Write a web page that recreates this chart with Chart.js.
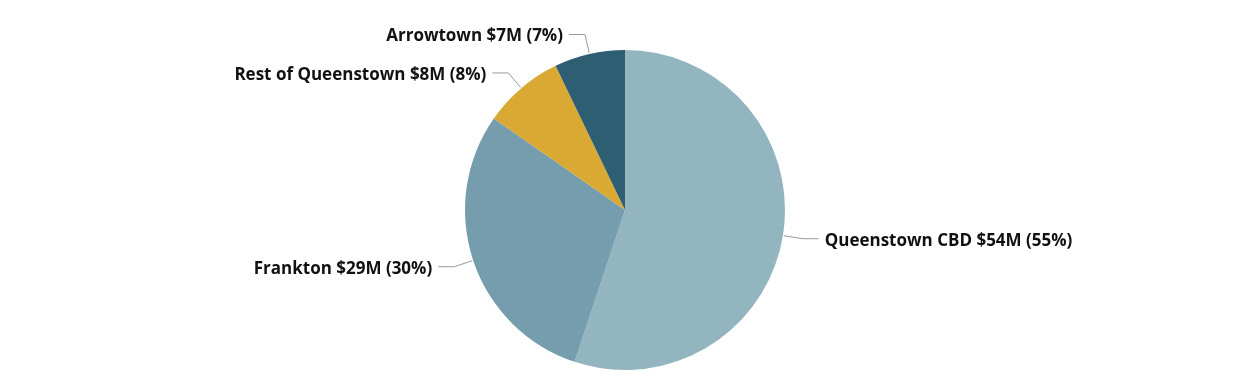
<!DOCTYPE html>
<html>
<head>
<meta charset="utf-8">
<script src="https://cdn.jsdelivr.net/npm/chart.js@4/dist/chart.umd.min.js"></script>
<style>
	html, body { margin: 0; padding: 0; background: #fff; }
	#wrap { width: 1258px; height: 381px; position: relative; }
</style>
</head>
<body>
<div id="wrap"><canvas id="chart"></canvas></div>
<script>
// Spending by area ($M)
const areas = ['Queenstown CBD', 'Frankton', 'Rest of Queenstown', 'Arrowtown'];
const spend = [54, 29, 8, 7];
const percents = [55, 30, 8, 7];
const sliceColors = ['#93b5bf', '#769dae', '#d9a934', '#2e5e72'];

// Draw the outside labels with two-part leader lines
const leaderLabels = {
	id: 'leaderLabels',
	afterDatasetsDraw(chart) {
		const ctx = chart.ctx;
		const arcs = chart.getDatasetMeta(0).data;
		ctx.save();
		ctx.font = 'bold 17px "Open Sans", sans-serif';
		ctx.textBaseline = 'middle';
		arcs.forEach(function(arc, i) {
			const mid = (arc.startAngle + arc.endAngle) / 2;
			const cos = Math.cos(mid), sin = Math.sin(mid);
			const r = arc.outerRadius;
			const x0 = arc.x + cos * (r + 1), y0 = arc.y + sin * (r + 1);
			const x1 = arc.x + cos * (r + 20), y1 = arc.y + sin * (r + 20);
			const dir = cos >= 0 ? 1 : -1;
			const x2 = x1 + dir * 16;
			ctx.strokeStyle = '#9a9a9a';
			ctx.lineWidth = 1;
			ctx.beginPath();
			ctx.moveTo(x0, y0);
			ctx.lineTo(x1, y1);
			ctx.lineTo(x2, y1);
			ctx.stroke();
			ctx.fillStyle = '#111111';
			ctx.textAlign = dir > 0 ? 'left' : 'right';
			const text = areas[i] + ' $' + spend[i] + 'M (' + percents[i] + '%)';
			ctx.fillText(text, x2 + dir * 6, y1 + 2);
		});
		ctx.restore();
	}
};

new Chart(document.getElementById('chart'), {
	type: 'pie',
	data: {
		labels: areas,
		datasets: [{
			data: spend,
			backgroundColor: sliceColors,
			borderWidth: 0
		}]
	},
	options: {
		responsive: true,
		maintainAspectRatio: false,
		animation: false,
		radius: 160,
		layout: { padding: { top: 39, bottom: 0, left: 0, right: 8 } },
		plugins: {
			legend: { display: false },
			tooltip: { enabled: false }
		}
	},
	plugins: [leaderLabels]
});
</script>
</body>
</html>
